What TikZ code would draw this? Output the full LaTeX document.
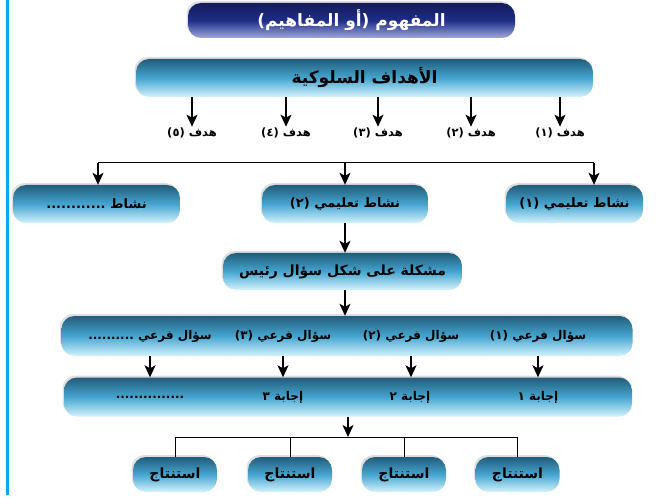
\documentclass[tikz,border=0pt]{standalone}
\usepackage{fontspec}
\newfontfamily\arabicfont[Script=Arabic]{DejaVu Sans}
\TeXXeTstate=1
\usetikzlibrary{arrows.meta,shadows}

\definecolor{barTop}{RGB}{34,92,122}
\definecolor{barMid}{RGB}{70,165,208}
\definecolor{barLow}{RGB}{212,243,252}
\definecolor{navyTop}{RGB}{20,28,90}
\definecolor{navyMid}{RGB}{30,45,135}
\definecolor{navyLow}{RGB}{160,168,220}
\definecolor{edgeCyan}{RGB}{0,174,239}

\newcommand\arsize[1]{\arabicfont\bfseries\fontsize{#1}{#1}\selectfont}

\tikzset{
  bar/.style={rounded corners=13pt, inner sep=0pt,
    top color=barTop, bottom color=barLow, middle color=barMid,
    drop shadow={shadow xshift=-1.5pt, shadow yshift=2pt, opacity=0.25, fill=gray},
    font=\arsize{13}},
  titlebar/.style={bar, top color=navyTop, bottom color=navyLow, middle color=navyMid,
    text=white, font=\arsize{17}},
  concl/.style={bar, minimum width=84, minimum height=35, font=\arsize{14}},
  inbar/.style={font=\arsize{12}, inner sep=1pt},
  goal/.style={font=\arsize{11.5}, inner sep=1pt},
  line/.style={line width=1pt},
  arr/.style={line width=1.3pt, -{Stealth[length=12pt,width=11pt,inset=3pt]}}
}

\begin{document}
\begin{tikzpicture}[x=1pt,y=-1pt]
  \useasboundingbox (0,0) rectangle (656,497);
  \draw[edgeCyan, line width=3pt] (7,0) -- (7,495);

  % المفهوم والأهداف
  \node[titlebar, minimum width=327, minimum height=35] (concept) at (351.5,20.5)
    {\beginR المفهوم (أو المفاهيم)\endR};
  \node[bar, minimum width=457, minimum height=38, font=\arsize{17}] (goals) at (364.5,78)
    {\beginR الأهداف السلوكية\endR};

  \node[goal] (g1) at (560,133) {\beginR هدف (١)\endR};
  \node[goal] (g2) at (471,133) {\beginR هدف (٢)\endR};
  \node[goal] (g3) at (378,133) {\beginR هدف (٣)\endR};
  \node[goal] (g4) at (286,133) {\beginR هدف (٤)\endR};
  \node[goal] (g5) at (192,133) {\beginR هدف (٥)\endR};
  \foreach \i in {1,...,5}
    \draw[arr] (goals.south -| g\i) -- (g\i.north);

  % الأنشطة
  \node[bar, minimum width=137, minimum height=38] (act1) at (574.5,204)
    {\beginR نشاط تعليمي (١)\endR};
  \node[bar, minimum width=166, minimum height=38] (act2) at (345,204)
    {\beginR نشاط تعليمي (٢)\endR};
  \node[bar, minimum width=167, minimum height=38] (act3) at (96.5,204)
    {\beginR نشاط ............\endR};

  \coordinate (splitL) at (98,163);
  \coordinate (splitM) at (345,163);
  \coordinate (splitR) at (594,163);
  \draw[line] (splitL) -- (splitR);
  \draw[arr] (splitL) -- (splitL |- act3.north);
  \draw[arr] (splitM) -- (act2.north);
  \draw[arr] (splitR) -- (splitR |- act1.north);

  % المشكلة
  \node[bar, minimum width=239, minimum height=37, font=\arsize{14}] (problem) at (342.5,271.5)
    {\beginR مشكلة على شكل سؤال رئيس\endR};
  \draw[arr] (act2.south) -- (act2.south |- problem.north);

  % الأسئلة الفرعية
  \node[bar, minimum width=571, minimum height=40] (subq) at (347,336) {};
  \node[inbar] (q1) at (538,336) {\beginR سؤال فرعي (١)\endR};
  \node[inbar] (q2) at (411,336) {\beginR سؤال فرعي (٢)\endR};
  \node[inbar] (q3) at (283,336) {\beginR سؤال فرعي (٣)\endR};
  \node[inbar] (q4) at (150,336) {\beginR سؤال فرعي ..........\endR};
  \draw[arr] (problem.south -| act2) -- (subq.north -| act2);

  % الإجابات
  \node[bar, minimum width=568, minimum height=39] (answers) at (348,397) {};
  \node[inbar] (a1) at (538,397) {\beginR إجابة ١\endR};
  \node[inbar] (a2) at (410,397) {\beginR إجابة ٢\endR};
  \node[inbar] (a3) at (283,397) {\beginR إجابة ٣\endR};
  \node[inbar] (a4) at (150,397) {...............};
  \foreach \i in {1,...,4}
    \draw[arr] (subq.south -| q\i) -- (answers.north -| q\i);

  % الاستنتاجات
  \node[concl] (c1) at (517.5,474.5) {\beginR استنتاج\endR};
  \node[concl] (c2) at (404,474.5) {\beginR استنتاج\endR};
  \node[concl] (c3) at (290,474.5) {\beginR استنتاج\endR};
  \node[concl] (c4) at (175,474.5) {\beginR استنتاج\endR};

  \coordinate (joinM) at (348,437);
  \draw[arr] (answers.south -| joinM) -- (joinM);
  \draw[line] (c4.north |- joinM) -- (c1.north |- joinM);
  \foreach \i in {1,...,4}
    \draw[line] (c\i.north |- joinM) -- (c\i.north);
\end{tikzpicture}
\end{document}
